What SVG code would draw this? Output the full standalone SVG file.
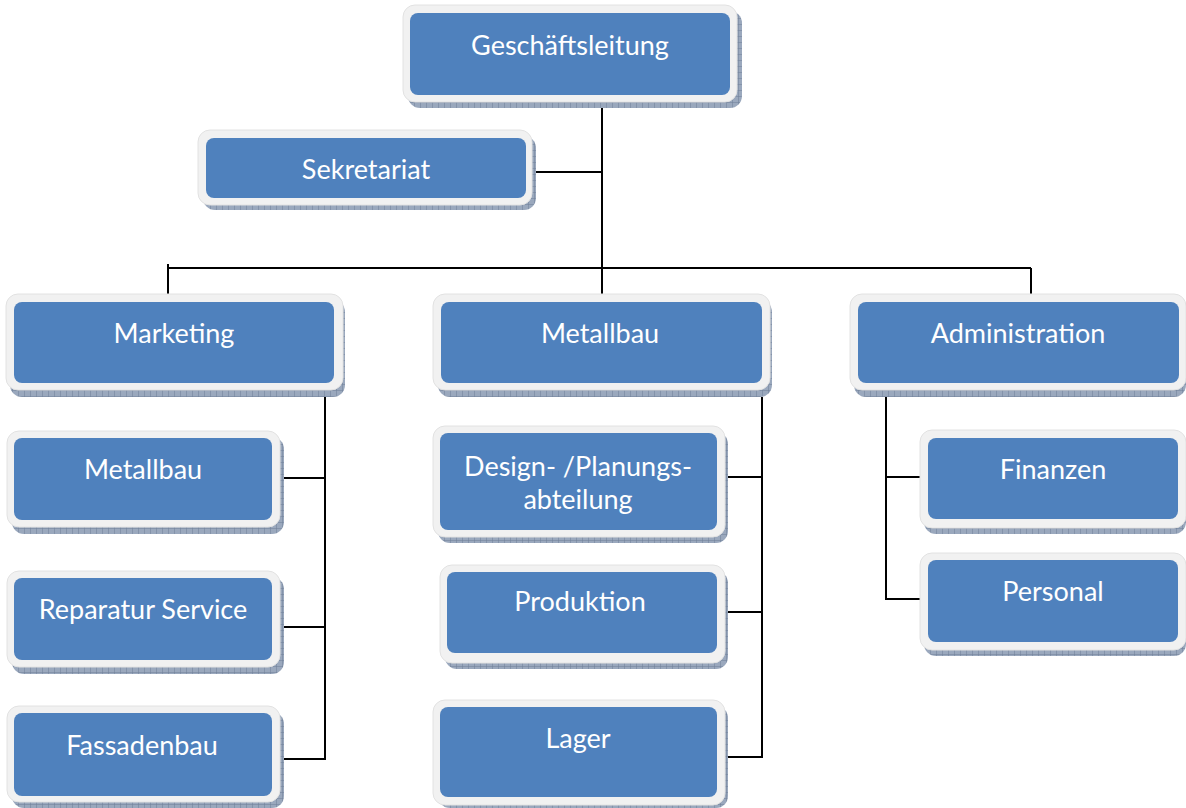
<svg xmlns="http://www.w3.org/2000/svg" width="1186" height="808" viewBox="0 0 1186 808">
<style>
.sh{fill:url(#hatch);}
.fr{fill:#f1f1f1;stroke:#e2e2e2;stroke-width:1;}
.in{fill:#4f81bd;}
.t{font-family:Lato,"Open Sans",sans-serif;font-size:27px;fill:#ffffff;text-anchor:middle;}
.c{stroke:#000;stroke-width:2;fill:none;}
</style>
<defs>
<pattern id="hatch" width="6" height="6" patternUnits="userSpaceOnUse">
<rect width="6" height="6" fill="#9aa8bd"/>
<path d="M0 0H6M0 0V6" stroke="#6f7f98" stroke-width="1"/>
</pattern>
</defs>
<rect width="1186" height="808" fill="#fff"/>
<g id="connectors">
<line class="c" x1="602" y1="103" x2="602" y2="300"/>
<line class="c" x1="533" y1="172" x2="602" y2="172"/>
<line class="c" x1="168" y1="268" x2="1031" y2="268"/>
<line class="c" x1="168" y1="264" x2="168" y2="298"/>
<line class="c" x1="1031" y1="268" x2="1031" y2="298"/>
<line class="c" x1="325" y1="397" x2="325" y2="760"/>
<line class="c" x1="283" y1="478" x2="325" y2="478"/>
<line class="c" x1="283" y1="627" x2="325" y2="627"/>
<line class="c" x1="283" y1="759" x2="326" y2="759"/>
<line class="c" x1="762" y1="397" x2="762" y2="758"/>
<line class="c" x1="725" y1="477" x2="763" y2="477"/>
<line class="c" x1="725" y1="612" x2="763" y2="612"/>
<line class="c" x1="725" y1="757" x2="763" y2="757"/>
<line class="c" x1="886" y1="397" x2="886" y2="600"/>
<line class="c" x1="885" y1="477" x2="925" y2="477"/>
<line class="c" x1="885" y1="599" x2="925" y2="599"/>
</g>
<g id="n-geschaeftsleitung">
<rect class="sh" x="408" y="11" width="334" height="97" rx="12"/>
<rect class="fr" x="403" y="5" width="334" height="97" rx="12"/>
<rect class="in" x="410" y="13" width="320" height="82" rx="8"/>
<text class="t" x="570" y="55">Geschäftsleitung</text>
</g>
<g id="n-sekretariat">
<rect class="sh" x="203" y="136" width="333" height="74" rx="12"/>
<rect class="fr" x="198" y="130" width="334" height="75" rx="12"/>
<rect class="in" x="206" y="138" width="320" height="60" rx="8"/>
<text class="t" x="366" y="179">Sekretariat</text>
</g>
<g id="n-marketing">
<rect class="sh" x="10" y="300" width="335" height="97" rx="12"/>
<rect class="fr" x="6" y="294" width="337" height="96" rx="12"/>
<rect class="in" x="14" y="302" width="320" height="81" rx="8"/>
<text class="t" x="174" y="343">Marketing</text>
</g>
<g id="n-metallbau-main">
<rect class="sh" x="438" y="300" width="334" height="97" rx="12"/>
<rect class="fr" x="433" y="294" width="337" height="96" rx="12"/>
<rect class="in" x="441" y="302" width="321" height="81" rx="8"/>
<text class="t" x="600" y="343">Metallbau</text>
</g>
<g id="n-administration">
<rect class="sh" x="854" y="300" width="332" height="97" rx="12"/>
<rect class="fr" x="850" y="294" width="336" height="96" rx="12"/>
<rect class="in" x="858" y="302" width="321" height="81" rx="8"/>
<text class="t" x="1018" y="343">Administration</text>
</g>
<g id="n-metallbau-sub">
<rect class="sh" x="12" y="437" width="272" height="97" rx="12"/>
<rect class="fr" x="7" y="431" width="273" height="96" rx="12"/>
<rect class="in" x="14" y="438" width="258" height="82" rx="8"/>
<text class="t" x="143" y="479">Metallbau</text>
</g>
<g id="n-reparatur">
<rect class="sh" x="12" y="577" width="272" height="97" rx="12"/>
<rect class="fr" x="7" y="571" width="273" height="96" rx="12"/>
<rect class="in" x="14" y="578" width="258" height="82" rx="8"/>
<text class="t" x="143" y="619">Reparatur Service</text>
</g>
<g id="n-fassadenbau">
<rect class="sh" x="12" y="712" width="272" height="96" rx="12"/>
<rect class="fr" x="7" y="706" width="273" height="96" rx="12"/>
<rect class="in" x="14" y="713" width="258" height="83" rx="8"/>
<text class="t" x="142" y="755">Fassadenbau</text>
</g>
<g id="n-design">
<rect class="sh" x="438" y="432" width="290" height="111" rx="12"/>
<rect class="fr" x="433" y="426" width="292" height="111" rx="12"/>
<rect class="in" x="440" y="433" width="277" height="97" rx="8"/>
<text class="t" x="578" y="476">Design- /Planungs-</text>
<text class="t" x="578" y="509">abteilung</text>
</g>
<g id="n-produktion">
<rect class="sh" x="445" y="571" width="283" height="98" rx="12"/>
<rect class="fr" x="440" y="565" width="285" height="98" rx="12"/>
<rect class="in" x="447" y="572" width="270" height="81" rx="8"/>
<text class="t" x="580" y="611">Produktion</text>
</g>
<g id="n-lager">
<rect class="sh" x="438" y="706" width="290" height="102" rx="12"/>
<rect class="fr" x="433" y="700" width="292" height="105" rx="12"/>
<rect class="in" x="440" y="707" width="277" height="90" rx="8"/>
<text class="t" x="578" y="748">Lager</text>
</g>
<g id="n-finanzen">
<rect class="sh" x="924" y="436" width="262" height="98" rx="12"/>
<rect class="fr" x="920" y="430" width="266" height="98" rx="12"/>
<rect class="in" x="928" y="438" width="250" height="81" rx="8"/>
<text class="t" x="1053" y="479">Finanzen</text>
</g>
<g id="n-personal">
<rect class="sh" x="924" y="559" width="262" height="97" rx="12"/>
<rect class="fr" x="920" y="553" width="266" height="97" rx="12"/>
<rect class="in" x="928" y="560" width="250" height="82" rx="8"/>
<text class="t" x="1053" y="601">Personal</text>
</g>
</svg>
